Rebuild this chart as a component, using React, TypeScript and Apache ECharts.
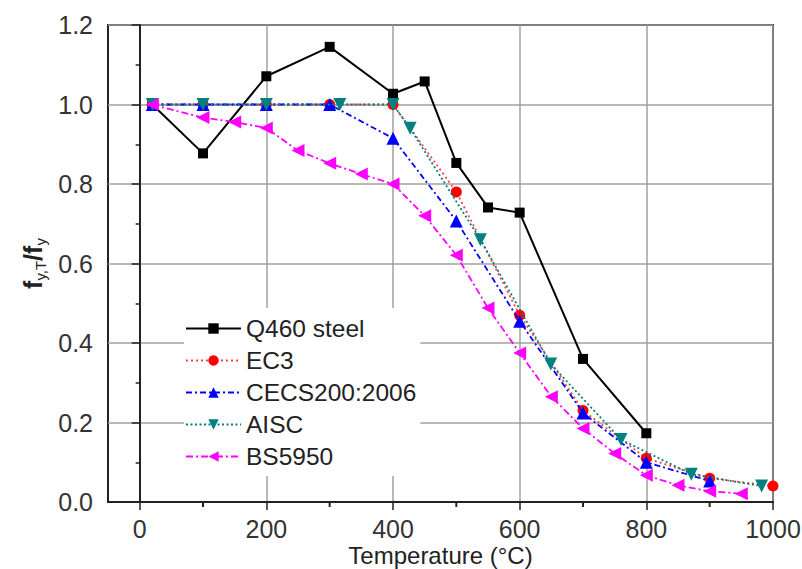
import React, { useEffect, useRef } from 'react';
import * as echarts from 'echarts';

const FONT = 'Liberation Sans';

const seriesNames = ['Q460 steel', 'EC3', 'CECS200:2006', 'AISC', 'BS5950'];

const tempQ460 = [20, 100, 200, 300, 400, 450, 500, 550, 600, 700, 800];
const valQ460 = [1.0, 0.877, 1.071, 1.145, 1.027, 1.058, 0.853, 0.741, 0.728, 0.36, 0.173];

const tempEC3 = [20, 100, 200, 300, 400, 500, 600, 700, 800, 900, 1000];
const valEC3 = [1.0, 1.0, 1.0, 1.0, 1.0, 0.78, 0.47, 0.23, 0.11, 0.06, 0.04];

const tempCECS = [20, 100, 200, 300, 400, 500, 600, 700, 800, 900];
const valCECS = [1.0, 1.0, 1.0, 1.0, 0.915, 0.707, 0.455, 0.224, 0.1, 0.053];

const tempAISC = [20, 100, 200, 316, 400, 427, 538, 649, 760, 871, 982];
const valAISC = [1.0, 1.0, 1.0, 1.0, 1.0, 0.94, 0.66, 0.347, 0.157, 0.07, 0.04];

const tempBS = [20, 100, 150, 200, 250, 300, 350, 400, 450, 500, 550, 600, 650, 700, 750, 800, 850, 900, 950];
const valBS = [1.0, 0.967, 0.956, 0.941, 0.884, 0.852, 0.825, 0.8, 0.72, 0.621, 0.488, 0.375, 0.265, 0.185, 0.122, 0.067, 0.042, 0.027, 0.021];

const xTicks = [0, 200, 400, 600, 800, 1000];
const xMinorTicks = [100, 300, 500, 700, 900];

const zip = (xs: number[], ys: number[]) => xs.map((x, i) => [x, ys[i]]);

const downTri = 'path://M0,0L10,0L5,9Z';
const leftTri = 'path://M9,0L9,10L0,5Z';

export default function App() {
  const ref = useRef<HTMLDivElement>(null);
  useEffect(() => {
    const chart = echarts.init(ref.current!, null, { renderer: 'svg' });
    const option: any = {
      animation: false,
      backgroundColor: '#ffffff',
      grid: {
        left: 108,
        top: 25,
        right: 29,
        bottom: 67,
        show: true,
        borderColor: '#222',
        borderWidth: 2,
        containLabel: false,
        outerBoundsMode: 'none',
      },
      legend: {
        data: seriesNames,
        orient: 'vertical',
        left: 184,
        top: 308,
        backgroundColor: '#ffffff',
        padding: [8, 4, 7, 1],
        itemWidth: 55,
        itemHeight: 13,
        itemGap: 7,
        textStyle: { fontSize: 24.5, fontFamily: FONT, color: '#222', lineHeight: 24 },
      },
      xAxis: {
        type: 'value',
        min: -50,
        max: 1000,
        name: 'Temperature (°C)',
        nameLocation: 'middle',
        nameGap: 41,
        nameMoveOverlap: false,
        nameTextStyle: { fontSize: 24, fontFamily: FONT, color: '#222', lineHeight: 24 },
        axisLine: { show: true, onZero: false, lineStyle: { color: '#222', width: 2 } },
        axisTick: { show: true, length: 8, customValues: xTicks, lineStyle: { color: '#222', width: 1.5 } },
        axisLabel: {
          customValues: xTicks,
          margin: 14,
          fontSize: 25,
          fontFamily: FONT,
          color: '#333',
          formatter: (v: number) => String(v),
        },
        splitLine: { show: true, lineStyle: { color: '#a0a0a0', width: 1.5 } },
      },
      yAxis: {
        type: 'value',
        min: 0,
        max: 1.2,
        interval: 0.2,
        name: '{a|f}{s|y,T}{a|/f}{s|y}',
        nameLocation: 'middle',
        nameGap: 60,
        nameMoveOverlap: false,
        nameTextStyle: {
          fontFamily: FONT,
          color: '#222',
          rich: {
            a: { fontSize: 25, fontWeight: 'bold', fontFamily: FONT, color: '#222', lineHeight: 30 },
            s: { fontSize: 15, fontFamily: FONT, color: '#222', lineHeight: 30, verticalAlign: 'bottom', padding: [9, 0, 0, 0] },
          },
        },
        axisLine: { show: true, lineStyle: { color: '#222', width: 2 } },
        axisTick: { show: true, length: 8, lineStyle: { color: '#222', width: 1.5 } },
        minorTick: { show: true, splitNumber: 2, length: 4, lineStyle: { color: '#222', width: 1.5 } },
        axisLabel: {
          margin: 15,
          fontSize: 25,
          fontFamily: FONT,
          color: '#333',
          formatter: (v: number) => v.toFixed(1),
        },
        splitLine: { show: true, lineStyle: { color: '#a0a0a0', width: 1.5 } },
      },
      series: [
        {
          name: 'Q460 steel',
          type: 'line',
          data: zip(tempQ460, valQ460),
          symbol: 'rect',
          symbolSize: 10,
          lineStyle: { color: '#000', width: 2, type: 'solid' },
          itemStyle: { color: '#000' },
          z: 2,
        },
        {
          name: 'EC3',
          type: 'line',
          data: zip(tempEC3, valEC3),
          symbol: 'circle',
          symbolSize: 11,
          lineStyle: { color: '#ff4040', width: 1.8, type: [2, 3] },
          itemStyle: { color: '#ff0000' },
          z: 3,
        },
        {
          name: 'CECS200:2006',
          type: 'line',
          data: zip(tempCECS, valCECS),
          symbol: 'triangle',
          symbolSize: 13,
          lineStyle: { color: '#0000ff', width: 1.8, type: [6, 3, 2, 3] },
          itemStyle: { color: '#0000ff' },
          z: 4,
        },
        {
          name: 'AISC',
          type: 'line',
          data: zip(tempAISC, valAISC),
          symbol: downTri,
          symbolSize: 13,
          lineStyle: { color: '#008080', width: 1.8, type: [2, 2.5] },
          itemStyle: { color: '#008080' },
          z: 5,
        },
        {
          name: 'BS5950',
          type: 'line',
          data: zip(tempBS, valBS),
          symbol: leftTri,
          symbolSize: 13,
          lineStyle: { color: '#ff00ff', width: 1.8, type: [7, 3, 2, 3] },
          itemStyle: { color: '#ff00ff' },
          z: 6,
        },
        {
          name: 'minorTicksX',
          type: 'custom',
          data: xMinorTicks.map((t) => [t, 0]),
          silent: true,
          clip: false,
          z: 10,
          renderItem: (params: any, api: any) => {
            const p = api.coord([api.value(0), api.value(1)]);
            return {
              type: 'line',
              shape: { x1: p[0], y1: p[1], x2: p[0], y2: p[1] + 5 },
              style: { stroke: '#222', lineWidth: 2 },
            };
          },
        },
      ],
    };
    chart.setOption(option);
    return () => chart.dispose();
  }, []);
  return <div ref={ref} style={{ position: 'absolute', left: 0, top: 0, width: 802, height: 569 }} />;
}
